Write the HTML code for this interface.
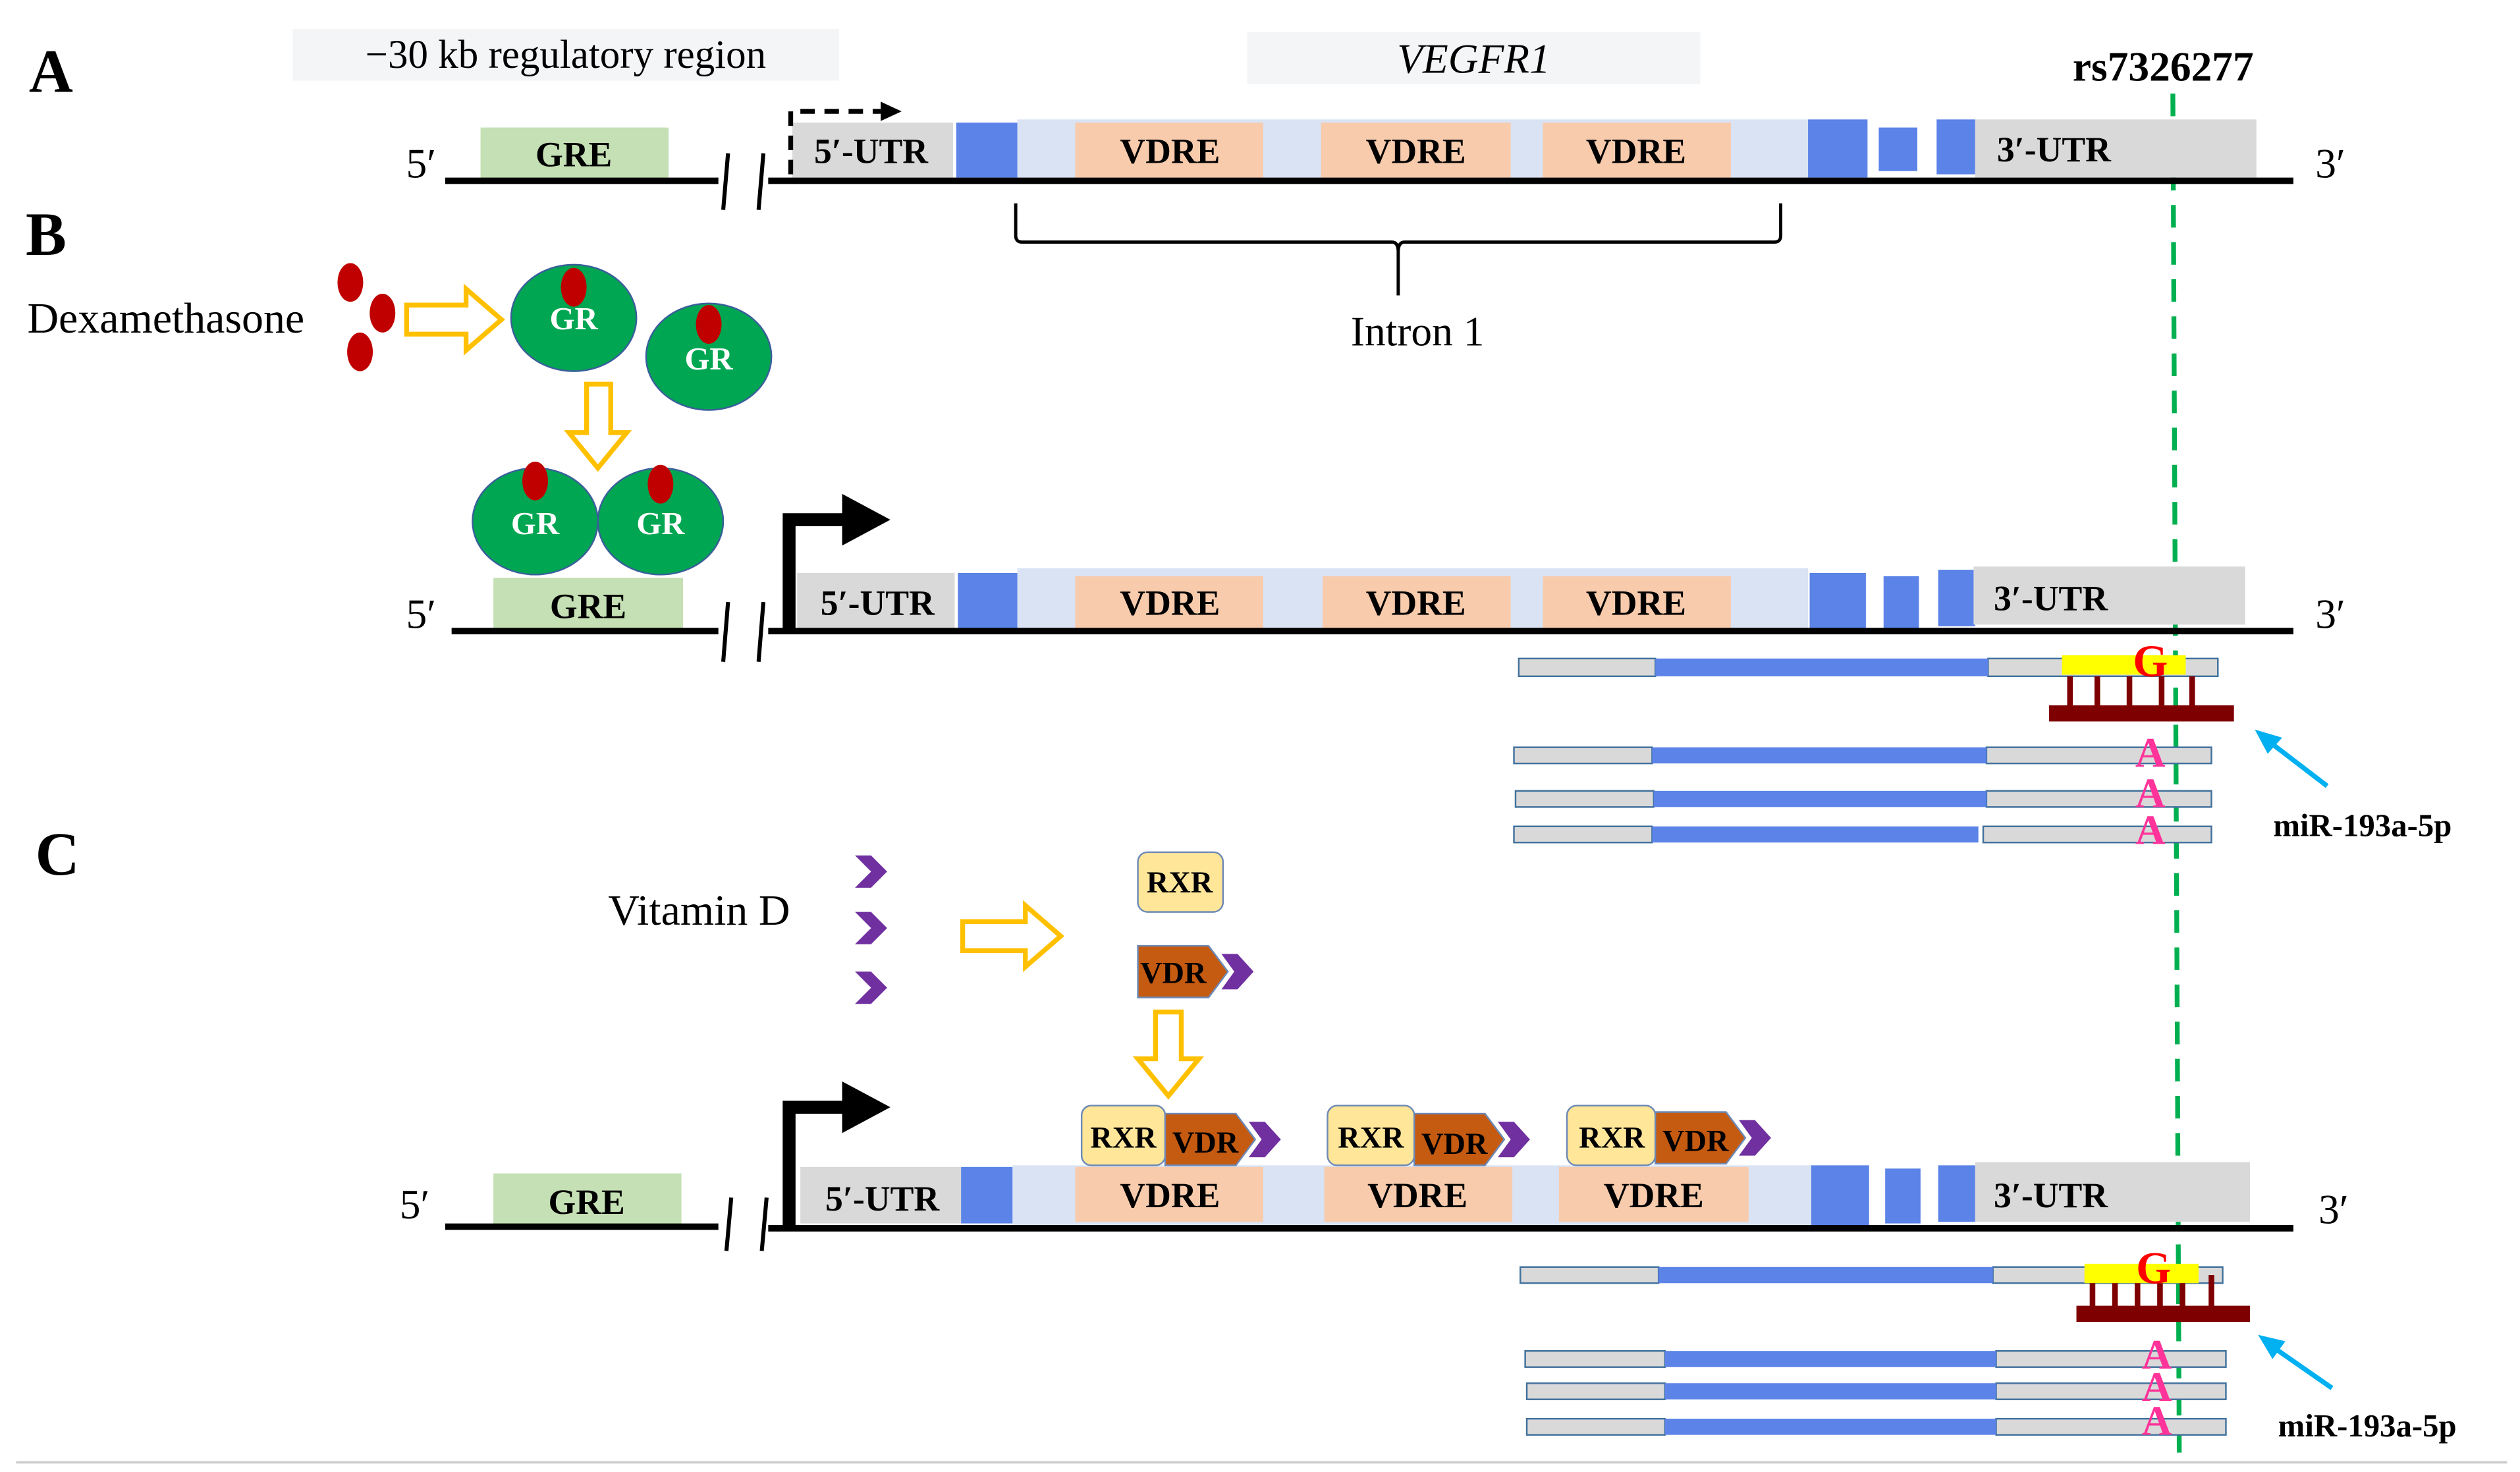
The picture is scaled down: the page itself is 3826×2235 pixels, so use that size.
<!DOCTYPE html>
<html><head><meta charset="utf-8"><style>html,body{margin:0;padding:0;background:#fff}svg{display:block}text{font-family:"Liberation Serif",serif}</style></head><body>
<svg width="3826" height="2235" viewBox="0 0 1568 912" preserveAspectRatio="none" xmlns="http://www.w3.org/2000/svg">
<defs>
<g id="gr"><ellipse cx="0" cy="0" rx="39" ry="33" fill="#00a651" stroke="#3a5f9a" stroke-width="1"/></g>
<g id="chev"><polygon points="-8,-10 2,-10 12,0 2,10 -8,10 2,0" fill="#7030a0"/></g>
<g id="vdr"><polygon points="0,0 44,0 56,16 44,32 0,32" fill="#c55a11" stroke="#6c89b6" stroke-width="1"/><polygon points="52,5 62,5 72,16 62,27 52,27 60,16" fill="#7030a0"/></g>
</defs>
<line x1="1352" y1="58" x2="1356" y2="905" stroke="#00b050" stroke-width="3" stroke-dasharray="14,9"/>
<line x1="10" y1="906" x2="1560" y2="906" stroke="#ccc" stroke-width="1.5"/>
<!-- A -->
<text x="18" y="57" font-size="38" font-weight="bold">A</text>
<rect x="182" y="18" width="340" height="32" fill="#f4f5f7"/>
<text x="352" y="42" font-size="25" text-anchor="middle">−30 kb regulatory region</text>
<rect x="776" y="20" width="282" height="32" fill="#f4f5f7"/>
<text x="917" y="45" font-size="26" font-style="italic" text-anchor="middle">VEGFR1</text>
<text x="1346" y="50" font-size="26" font-weight="bold" text-anchor="middle">rs7326277</text>
<rect x="299" y="79" width="117" height="32" fill="#c5e0b4"/><text x="357" y="103" font-size="22" font-weight="bold" text-anchor="middle">GRE</text>
<rect x="633" y="74" width="492" height="36" fill="#dae3f3"/>
<rect x="493" y="76" width="100" height="34" fill="#d9d9d9"/><text x="542" y="101" font-size="22" font-weight="bold" text-anchor="middle">5′-UTR</text>
<rect x="595" y="76" width="38" height="34" fill="#5b83e8"/>
<rect x="669" y="76" width="117" height="34" fill="#f8cbad"/><text x="728" y="101" font-size="22" font-weight="bold" text-anchor="middle">VDRE</text>
<rect x="822" y="76" width="118" height="34" fill="#f8cbad"/><text x="881" y="101" font-size="22" font-weight="bold" text-anchor="middle">VDRE</text>
<rect x="960" y="76" width="117" height="34" fill="#f8cbad"/><text x="1018" y="101" font-size="22" font-weight="bold" text-anchor="middle">VDRE</text>
<rect x="1125" y="74" width="37" height="36" fill="#5b83e8"/><rect x="1169" y="79" width="24" height="27" fill="#5b83e8"/><rect x="1205" y="74" width="24" height="34" fill="#5b83e8"/>
<rect x="1229" y="74" width="175" height="36" fill="#d9d9d9"/><text x="1278" y="100" font-size="22" font-weight="bold" text-anchor="middle">3′-UTR</text>
<line x1="277" y1="112" x2="447" y2="112" stroke="#000" stroke-width="4"/><line x1="478" y1="112" x2="1427" y2="112" stroke="#000" stroke-width="4"/>
<line x1="450" y1="130" x2="453" y2="95" stroke="#000" stroke-width="2.5"/><line x1="472" y1="130" x2="475" y2="95" stroke="#000" stroke-width="2.5"/>
<text x="262" y="110" font-size="26" text-anchor="middle">5′</text><text x="1450" y="110" font-size="26" text-anchor="middle">3′</text>
<path d="M492,108 V69 H548" fill="none" stroke="#000" stroke-width="3" stroke-dasharray="9,6"/><polygon points="548,63 561,69 548,75" fill="#000"/>
<path d="M632,126 V146 Q632,150 636,150 H866 Q870,150 870,156 V183 M870,156 Q870,150 874,150 H1104 Q1108,150 1108,146 V126" fill="none" stroke="#000" stroke-width="2"/>
<text x="882" y="214" font-size="26" text-anchor="middle">Intron 1</text>
<!-- B -->
<text x="16" y="158" font-size="38" font-weight="bold">B</text>
<text x="17" y="206" font-size="27">Dexamethasone</text>
<ellipse cx="218" cy="175" rx="8" ry="12" fill="#c00000"/><ellipse cx="238" cy="194" rx="8" ry="12" fill="#c00000"/><ellipse cx="224" cy="218" rx="8" ry="12" fill="#c00000"/>
<polygon points="253,189 290,189 290,179 312,198 290,217 290,207 253,207" fill="#fff" stroke="#ffc000" stroke-width="3"/>
<use href="#gr" x="357" y="197"/><ellipse cx="357" cy="178" rx="8" ry="12" fill="#c00000"/><text x="357" y="204" font-size="20" font-weight="bold" fill="#fff" text-anchor="middle">GR</text>
<use href="#gr" x="441" y="221"/><ellipse cx="441" cy="201" rx="8" ry="12" fill="#c00000"/><text x="441" y="229" font-size="20" font-weight="bold" fill="#fff" text-anchor="middle">GR</text>
<polygon points="365,238 380,238 380,268 390,268 372,290 354,268 365,268" fill="#fff" stroke="#ffc000" stroke-width="3"/>
<rect x="307" y="358" width="118" height="34" fill="#c5e0b4"/><text x="366" y="383" font-size="22" font-weight="bold" text-anchor="middle">GRE</text>
<use href="#gr" x="333" y="323"/><use href="#gr" x="411" y="323"/>
<ellipse cx="333" cy="298" rx="8" ry="12" fill="#c00000"/><ellipse cx="411" cy="300" rx="8" ry="12" fill="#c00000"/>
<text x="333" y="331" font-size="20" font-weight="bold" fill="#fff" text-anchor="middle">GR</text><text x="411" y="331" font-size="20" font-weight="bold" fill="#fff" text-anchor="middle">GR</text>
<rect x="633" y="352" width="492" height="38" fill="#dae3f3"/>
<rect x="496" y="355" width="98" height="35" fill="#d9d9d9"/><text x="546" y="381" font-size="22" font-weight="bold" text-anchor="middle">5′-UTR</text>
<rect x="596" y="355" width="37" height="35" fill="#5b83e8"/>
<rect x="669" y="357" width="117" height="33" fill="#f8cbad"/><text x="728" y="381" font-size="22" font-weight="bold" text-anchor="middle">VDRE</text>
<rect x="823" y="357" width="117" height="33" fill="#f8cbad"/><text x="881" y="381" font-size="22" font-weight="bold" text-anchor="middle">VDRE</text>
<rect x="960" y="357" width="117" height="33" fill="#f8cbad"/><text x="1018" y="381" font-size="22" font-weight="bold" text-anchor="middle">VDRE</text>
<rect x="1126" y="355" width="35" height="35" fill="#5b83e8"/><rect x="1172" y="357" width="22" height="33" fill="#5b83e8"/><rect x="1206" y="353" width="23" height="35" fill="#5b83e8"/>
<rect x="1228" y="351" width="169" height="36" fill="#d9d9d9"/><text x="1276" y="378" font-size="22" font-weight="bold" text-anchor="middle">3′-UTR</text>
<line x1="281" y1="391" x2="447" y2="391" stroke="#000" stroke-width="4"/><line x1="478" y1="391" x2="1427" y2="391" stroke="#000" stroke-width="4"/>
<line x1="450" y1="410" x2="453" y2="373" stroke="#000" stroke-width="2.5"/><line x1="472" y1="410" x2="475" y2="373" stroke="#000" stroke-width="2.5"/>
<text x="262" y="389" font-size="26" text-anchor="middle">5′</text><text x="1450" y="389" font-size="26" text-anchor="middle">3′</text>
<path d="M491,391 V322 H528" fill="none" stroke="#000" stroke-width="8"/><polygon points="524,306 554,322 524,338" fill="#000"/>
<g stroke="#41719c" stroke-width="1">
<rect x="945" y="408" width="85" height="11" fill="#d9d9d9"/><rect x="1237" y="408" width="143" height="11" fill="#d9d9d9"/>
<rect x="942" y="463" width="86" height="10" fill="#d9d9d9"/><rect x="1236" y="463" width="140" height="10" fill="#d9d9d9"/>
<rect x="943" y="490" width="86" height="10" fill="#d9d9d9"/><rect x="1236" y="490" width="140" height="10" fill="#d9d9d9"/>
<rect x="942" y="512" width="86" height="10" fill="#d9d9d9"/><rect x="1234" y="512" width="142" height="10" fill="#d9d9d9"/>
</g>
<rect x="1030" y="408" width="207" height="11" fill="#5b83e8"/><rect x="1028" y="463" width="208" height="10" fill="#5b83e8"/><rect x="1029" y="490" width="207" height="10" fill="#5b83e8"/><rect x="1028" y="512" width="203" height="10" fill="#5b83e8"/>
<rect x="1283" y="406" width="77" height="12" fill="#ffff00"/>
<g stroke="#7f0000" stroke-width="3.5"><line x1="1288" y1="419" x2="1288" y2="440"/><line x1="1305" y1="419" x2="1305" y2="440"/><line x1="1325" y1="419" x2="1325" y2="440"/><line x1="1345" y1="419" x2="1345" y2="440"/><line x1="1364" y1="419" x2="1364" y2="440"/></g>
<rect x="1275" y="437" width="115" height="10" fill="#7f0000"/>
<text x="1338" y="419" font-size="28" font-weight="bold" fill="#ff0000" text-anchor="middle">G</text>
<text x="1338" y="475" font-size="26" font-weight="bold" fill="#ff3399" text-anchor="middle">A</text><text x="1338" y="500" font-size="26" font-weight="bold" fill="#ff3399" text-anchor="middle">A</text><text x="1338" y="523" font-size="26" font-weight="bold" fill="#ff3399" text-anchor="middle">A</text>
<line x1="1448" y1="487" x2="1410" y2="458" stroke="#00b0f0" stroke-width="3"/><polygon points="1403,452 1420,457 1411,467" fill="#00b0f0"/>
<text x="1470" y="518" font-size="20" font-weight="bold" text-anchor="middle">miR-193a-5p</text>
<!-- C -->
<text x="22" y="542" font-size="38" font-weight="bold">C</text>
<text x="435" y="573" font-size="27" text-anchor="middle">Vitamin D</text>
<use href="#chev" x="540" y="540"/><use href="#chev" x="540" y="575"/><use href="#chev" x="540" y="612"/>
<polygon points="599,571 638,571 638,561 660,580 638,599 638,589 599,589" fill="#fff" stroke="#ffc000" stroke-width="3"/>
<rect x="708" y="528" width="53" height="37" rx="6" fill="#ffe699" stroke="#6c89b6"/><text x="734" y="553" font-size="19" font-weight="bold" text-anchor="middle">RXR</text>
<use href="#vdr" x="708" y="586"/><text x="730" y="609" font-size="19" font-weight="bold" text-anchor="middle">VDR</text>
<polygon points="719,627 735,627 735,656 746,656 727,679 708,656 719,656" fill="#fff" stroke="#ffc000" stroke-width="3"/>
<rect x="307" y="727" width="117" height="33" fill="#c5e0b4"/><text x="365" y="752" font-size="22" font-weight="bold" text-anchor="middle">GRE</text>
<rect x="630" y="722" width="497" height="37" fill="#dae3f3"/>
<rect x="498" y="723" width="100" height="35" fill="#d9d9d9"/><text x="549" y="750" font-size="22" font-weight="bold" text-anchor="middle">5′-UTR</text>
<rect x="598" y="723" width="32" height="35" fill="#5b83e8"/>
<rect x="669" y="723" width="117" height="34" fill="#f8cbad"/><text x="728" y="748" font-size="22" font-weight="bold" text-anchor="middle">VDRE</text>
<rect x="824" y="723" width="117" height="34" fill="#f8cbad"/><text x="882" y="748" font-size="22" font-weight="bold" text-anchor="middle">VDRE</text>
<rect x="970" y="723" width="118" height="34" fill="#f8cbad"/><text x="1029" y="748" font-size="22" font-weight="bold" text-anchor="middle">VDRE</text>
<rect x="1127" y="722" width="36" height="40" fill="#5b83e8"/><rect x="1173" y="724" width="22" height="34" fill="#5b83e8"/><rect x="1206" y="722" width="23" height="35" fill="#5b83e8"/>
<rect x="1229" y="720" width="171" height="37" fill="#d9d9d9"/><text x="1276" y="748" font-size="22" font-weight="bold" text-anchor="middle">3′-UTR</text>
<rect x="673" y="685" width="52" height="37" rx="6" fill="#ffe699" stroke="#6c89b6"/><text x="699" y="711" font-size="19" font-weight="bold" text-anchor="middle">RXR</text>
<use href="#vdr" x="725" y="690"/><text x="750" y="714" font-size="19" font-weight="bold" text-anchor="middle">VDR</text>
<rect x="826" y="685" width="54" height="37" rx="6" fill="#ffe699" stroke="#6c89b6"/><text x="853" y="711" font-size="19" font-weight="bold" text-anchor="middle">RXR</text>
<use href="#vdr" x="880" y="690"/><text x="905" y="715" font-size="19" font-weight="bold" text-anchor="middle">VDR</text>
<rect x="975" y="685" width="55" height="37" rx="6" fill="#ffe699" stroke="#6c89b6"/><text x="1003" y="711" font-size="19" font-weight="bold" text-anchor="middle">RXR</text>
<use href="#vdr" x="1030" y="689"/><text x="1055" y="713" font-size="19" font-weight="bold" text-anchor="middle">VDR</text>
<line x1="277" y1="760" x2="447" y2="760" stroke="#000" stroke-width="4"/><line x1="478" y1="761" x2="1427" y2="761" stroke="#000" stroke-width="4"/>
<line x1="452" y1="775" x2="455" y2="742" stroke="#000" stroke-width="2.5"/><line x1="474" y1="775" x2="477" y2="742" stroke="#000" stroke-width="2.5"/>
<text x="258" y="755" font-size="26" text-anchor="middle">5′</text><text x="1452" y="758" font-size="26" text-anchor="middle">3′</text>
<path d="M491,760 V686 H528" fill="none" stroke="#000" stroke-width="8"/><polygon points="524,670 554,686 524,702" fill="#000"/>
<g stroke="#41719c" stroke-width="1">
<rect x="946" y="785" width="86" height="10" fill="#d9d9d9"/><rect x="1240" y="785" width="143" height="10" fill="#d9d9d9"/>
<rect x="949" y="837" width="87" height="10" fill="#d9d9d9"/><rect x="1242" y="837" width="143" height="10" fill="#d9d9d9"/>
<rect x="950" y="857" width="86" height="10" fill="#d9d9d9"/><rect x="1242" y="857" width="143" height="10" fill="#d9d9d9"/>
<rect x="950" y="879" width="86" height="10" fill="#d9d9d9"/><rect x="1242" y="879" width="143" height="10" fill="#d9d9d9"/>
</g>
<rect x="1032" y="785" width="208" height="10" fill="#5b83e8"/><rect x="1036" y="837" width="206" height="10" fill="#5b83e8"/><rect x="1036" y="857" width="206" height="10" fill="#5b83e8"/><rect x="1036" y="879" width="206" height="10" fill="#5b83e8"/>
<rect x="1297" y="783" width="71" height="12" fill="#ffff00"/>
<g stroke="#7f0000" stroke-width="3.5"><line x1="1302" y1="795" x2="1302" y2="812"/><line x1="1316" y1="795" x2="1316" y2="812"/><line x1="1330" y1="795" x2="1330" y2="812"/><line x1="1344" y1="795" x2="1344" y2="812"/><line x1="1358" y1="795" x2="1358" y2="812"/><line x1="1376" y1="790" x2="1376" y2="812"/></g>
<rect x="1292" y="809" width="108" height="10" fill="#7f0000"/>
<text x="1340" y="795" font-size="28" font-weight="bold" fill="#ff0000" text-anchor="middle">G</text>
<text x="1342" y="848" font-size="26" font-weight="bold" fill="#ff3399" text-anchor="middle">A</text><text x="1342" y="868" font-size="26" font-weight="bold" fill="#ff3399" text-anchor="middle">A</text><text x="1342" y="889" font-size="26" font-weight="bold" fill="#ff3399" text-anchor="middle">A</text>
<line x1="1451" y1="860" x2="1412" y2="833" stroke="#00b0f0" stroke-width="3"/><polygon points="1405,827 1422,831 1414,842" fill="#00b0f0"/>
<text x="1473" y="890" font-size="20" font-weight="bold" text-anchor="middle">miR-193a-5p</text>
</svg>
</body></html>
